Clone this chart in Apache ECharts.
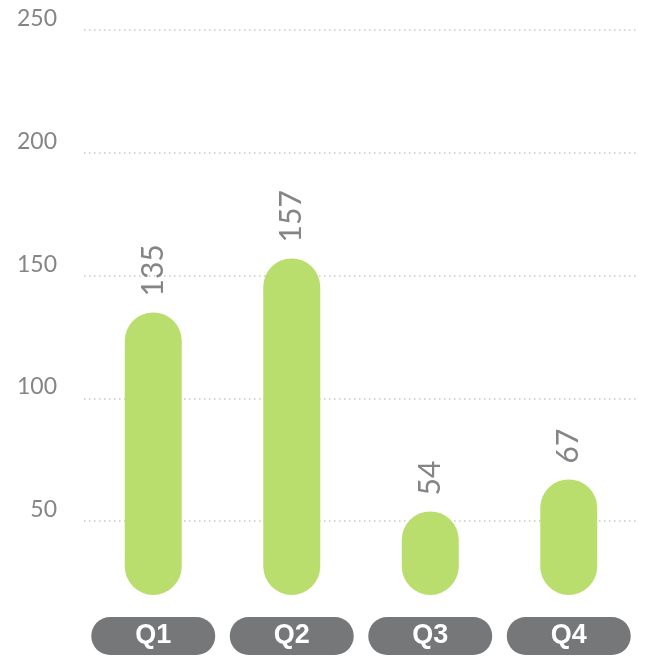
<html>
<head>
    <meta charset="utf-8" />
    <title>Quarterly</title>
    <script src="https://cdnjs.cloudflare.com/ajax/libs/echarts/6.0.0/echarts.min.js"></script>
    <script type="text/javascript">
        // chart data
        var quarters = ['Q1', 'Q2', 'Q3', 'Q4'];
        var values = [135, 157, 54, 67];
        var barBase = [20, 20, 20, 20];   // bars start a bit above zero
        var yTicks = [0, 50, 100, 150, 200, 250];
    </script>
</head>
<body style="margin:0">
    <div id="chart" style="width: 648px;height:656px;"></div>
    <script type="text/javascript">
        var chartDom = document.getElementById('chart');
        var myChart = echarts.init(chartDom);
        var option;

        var barTops = values.map(function (v, i) { return v - barBase[i]; });

        option = {
            backgroundColor: '#fff',
            animation: false,
            grid: { left: 84, right: 10, top: 30, bottom: 12 },
            xAxis: {
                type: 'category',
                data: quarters,
                axisLine: { show: false },
                axisTick: { show: false },
                axisLabel: {
                    margin: -27,
                    verticalAlign: 'top',
                    color: '#fff',
                    fontFamily: 'Liberation Sans',
                    fontWeight: 'bold',
                    fontSize: 27,
                    backgroundColor: '#767779',
                    borderRadius: 19,
                    width: 124,
                    height: 38,
                    lineHeight: 38,
                    align: 'center'
                }
            },
            yAxis: {
                type: 'value',
                min: yTicks[0],
                max: yTicks[yTicks.length - 1],
                interval: 50,
                axisLine: { show: false },
                axisTick: { show: false },
                axisLabel: {
                    showMinLabel: false,
                    margin: 27,
                    verticalAlign: 'bottom',
                    color: '#858585',
                    fontFamily: 'Lato',
                    fontSize: 23
                },
                splitLine: {
                    showMinLine: false,
                    lineStyle: { color: '#c8c8c8', width: 1.5, type: [1.5, 3.5] }
                }
            },
            series: [
                {
                    type: 'bar',
                    stack: 'q',
                    barWidth: 57,
                    data: barBase,
                    itemStyle: { color: 'rgba(0,0,0,0)' },
                    silent: true
                },
                {
                    type: 'bar',
                    stack: 'q',
                    barWidth: 57,
                    data: barTops,
                    itemStyle: { color: '#b9de6e', borderRadius: 28.5 },
                    label: {
                        show: true,
                        position: 'top',
                        distance: 16,
                        rotate: 90,
                        align: 'left',
                        verticalAlign: 'middle',
                        color: '#858585',
                        fontFamily: 'Liberation Sans Narrow, Lato',
                        fontSize: 30,
                        formatter: function (p) { return values[p.dataIndex]; }
                    }
                }
            ]
        };
        option && myChart.setOption(option);
    </script>
</body>
</html>
